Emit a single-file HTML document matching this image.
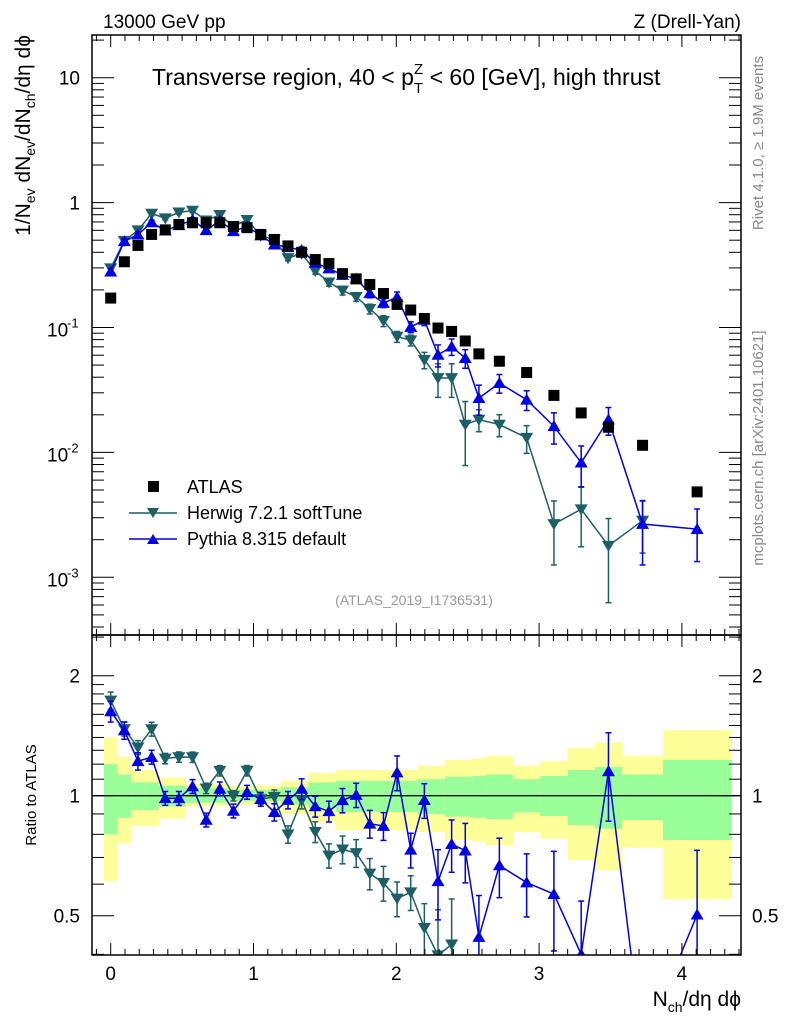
<!DOCTYPE html>
<html><head><meta charset="utf-8"><style>
html,body{margin:0;background:#fff;width:786px;height:1024px;overflow:hidden}
svg{display:block;font-family:"Liberation Sans",sans-serif}
</style></head><body>
<div style="position:relative;width:786px;height:1024px;overflow:hidden">
<svg id="c" width="786" height="1024" viewBox="0 0 786 1024" style="position:absolute;left:0;top:0"></svg>
<svg width="786" height="1024" style="position:absolute;left:0;top:0;font-family:'Liberation Sans',sans-serif">
<text x="103" y="28" font-size="19">13000 GeV pp</text>
<text x="741" y="28" font-size="19" text-anchor="end">Z (Drell-Yan)</text>
<text x="152" y="85" font-size="23">Transverse region, 40 &lt; p<tspan dy="8" font-size="15">T</tspan><tspan dy="-19" dx="-9" font-size="15">Z</tspan><tspan dy="11"> &lt; 60 [GeV], high thrust</tspan></text>
<text x="414" y="605" font-size="14" fill="#999" text-anchor="middle">(ATLAS_2019_I1736531)</text>
<g font-size="18">
<rect x="148" y="481" width="11" height="11" fill="#000"/>
<text x="187" y="493">ATLAS</text>
<line x1="129" x2="177" y1="513" y2="513" stroke="#1d5f66" stroke-width="1.5"/>
<polygon points="147,508 159,508 153,518" fill="#1d5f66"/>
<text x="187" y="519">Herwig 7.2.1 softTune</text>
<line x1="129" x2="177" y1="539" y2="539" stroke="#0000e6" stroke-width="1.5"/>
<polygon points="147,544 159,544 153,534" fill="#0000e6"/>
<text x="187" y="545">Pythia 8.315 default</text>
</g>
<text transform="translate(30,35) rotate(-90)" font-size="21" text-anchor="end">1/N<tspan dy="5" font-size="14">ev</tspan><tspan dy="-5"> dN</tspan><tspan dy="5" font-size="14">ev</tspan><tspan dy="-5">/dN</tspan><tspan dy="5" font-size="14">ch</tspan><tspan dy="-5">/dη dϕ</tspan></text>
<text transform="translate(36,795) rotate(-90)" font-size="15" text-anchor="middle">Ratio to ATLAS</text>
<text x="741" y="1006" font-size="21" text-anchor="end">N<tspan dy="6" font-size="14">ch</tspan><tspan dy="-6">/dη dϕ</tspan></text>
<text transform="translate(763,143) rotate(-90)" font-size="15" fill="#888" text-anchor="middle">Rivet 4.1.0, ≥ 1.9M events</text>
<text transform="translate(763,448) rotate(-90)" font-size="15" fill="#888" text-anchor="middle">mcplots.cern.ch [arXiv:2401.10621]</text>
</svg>
</div>
<script>
const nBins=[0,1,2,3,4,5,6,7,8,9,10,11,12,13,14,15,16,17,18,19,20,21,22,23,24,25,26,27,28.5,30.5,32.5,34.5,36.5,39,43];
const binLo=[-0.5,0.5,1.5,2.5,3.5,4.5,5.5,6.5,7.5,8.5,9.5,10.5,11.5,12.5,13.5,14.5,15.5,16.5,17.5,18.5,19.5,20.5,21.5,22.5,23.5,24.5,25.5,26.5,27.5,29.5,31.5,33.5,35.5,37.5,40.5];
const binHi=[0.5,1.5,2.5,3.5,4.5,5.5,6.5,7.5,8.5,9.5,10.5,11.5,12.5,13.5,14.5,15.5,16.5,17.5,18.5,19.5,20.5,21.5,22.5,23.5,24.5,25.5,26.5,27.5,29.5,31.5,33.5,35.5,37.5,40.5,45.5];
const atlas=[0.172,0.336,0.454,0.556,0.605,0.668,0.69,0.69,0.69,0.644,0.63,0.556,0.507,0.45,0.40,0.35,0.325,0.27,0.245,0.221,0.187,0.153,0.138,0.118,0.099,0.093,0.078,0.0615,0.0537,0.0436,0.0286,0.0207,0.0159,0.0114,0.00483];
const herwig=[0.298,0.494,0.60,0.817,0.75,0.835,0.862,0.72,0.797,0.644,0.728,0.545,0.504,0.36,0.39,0.284,0.23,0.198,0.176,0.141,0.113,0.0845,0.079,0.055,0.0394,0.0394,0.0167,0.0183,0.0167,0.0131,0.00267,0.00351,0.00179,0.00284];
const herwigErr=[0.05,0.04,0.04,0.04,0.03,0.03,0.03,0.03,0.03,0.03,0.03,0.03,0.04,0.05,0.05,0.06,0.07,0.08,0.08,0.09,0.1,0.1,0.1,0.15,0.3,0.3,0.53,0.2,0.2,0.25,0.53,0.5,0.65,0.45];
const pythia=[0.28,0.49,0.554,0.695,0.596,0.658,0.728,0.60,0.718,0.59,0.643,0.545,0.461,0.439,0.416,0.329,0.297,0.263,0.246,0.188,0.157,0.175,0.101,0.115,0.0604,0.0703,0.0568,0.0272,0.0359,0.0264,0.0162,0.00828,0.0183,0.00267,0.00243];
const pythiaErr=[0.06,0.05,0.05,0.04,0.04,0.04,0.04,0.04,0.04,0.04,0.04,0.04,0.05,0.05,0.06,0.06,0.06,0.07,0.07,0.08,0.08,0.1,0.1,0.1,0.2,0.15,0.17,0.27,0.17,0.18,0.28,0.36,0.25,0.53,0.45];
const yelUp=[1.40,1.25,1.16,1.16,1.11,1.11,1.07,1.07,1.07,1.06,1.06,1.06,1.06,1.09,1.09,1.14,1.14,1.16,1.16,1.16,1.16,1.16,1.16,1.19,1.19,1.23,1.23,1.24,1.26,1.19,1.22,1.32,1.36,1.26,1.46];
const yelDn=[0.61,0.76,0.84,0.84,0.877,0.877,0.94,0.94,0.94,0.95,0.95,0.95,0.95,0.90,0.90,0.857,0.857,0.82,0.82,0.82,0.82,0.82,0.82,0.81,0.81,0.774,0.774,0.767,0.75,0.81,0.779,0.69,0.651,0.741,0.55];
const grnUp=[1.20,1.13,1.08,1.08,1.06,1.06,1.045,1.045,1.045,1.035,1.035,1.035,1.035,1.05,1.05,1.08,1.08,1.09,1.09,1.09,1.09,1.09,1.09,1.10,1.10,1.116,1.116,1.12,1.13,1.10,1.12,1.16,1.18,1.13,1.23];
const grnDn=[0.80,0.88,0.92,0.92,0.94,0.94,0.96,0.96,0.96,0.97,0.97,0.97,0.97,0.95,0.95,0.93,0.93,0.91,0.91,0.91,0.91,0.91,0.91,0.90,0.90,0.886,0.886,0.88,0.874,0.908,0.889,0.844,0.826,0.869,0.774];
const xTicks=["0","1","2","3","4"];
const yTicks=["10","1","10^-1","10^-2","10^-3"];

const NS="http://www.w3.org/2000/svg";
const svg=document.getElementById('c');
const L=92,R=741,T=35,MB=635,RB=955;
const BW=0.0955;
function X(v){return 110.7+v*142.8;}
function Y(v){return 77.7+(1-Math.log10(v))*124.9;}
function RY(r){return 795.7-Math.log2(r)*120;}
function el(tag,at,parent){const e=document.createElementNS(NS,tag);for(const k in at)e.setAttribute(k,at[k]);(parent||svg).appendChild(e);return e;}
function txt(s,at,parent){const e=el('text',at,parent);e.textContent=s;return e;}

const defs=el('defs',{});
const cp1=el('clipPath',{id:'cm'},defs);el('rect',{x:L,y:T,width:R-L,height:MB-T},cp1);
const cp2=el('clipPath',{id:'cr'},defs);el('rect',{x:L,y:MB,width:R-L,height:RB-MB},cp2);

const gB=el('g',{'clip-path':'url(#cr)'});


for(let i=0;i<nBins.length;i++){
  const x0=X(binLo[i]*BW),x1=X(binHi[i]*BW);
  const ry=el('rect',{x:x0,y:RY(yelUp[i]),width:x1-x0+0.5,height:RY(yelDn[i])-RY(yelUp[i]),fill:'#ffff99'},gB);
  
  
  const rg=el('rect',{x:x0,y:RY(grnUp[i]),width:x1-x0+0.5,height:RY(grnDn[i])-RY(grnUp[i]),fill:'#99ff99'},gB);
  
  
}
const ref=el('line',{x1:L,x2:R,y1:RY(1),y2:RY(1),stroke:'#000','stroke-width':1.3});



function tri(g,x,y,down,col,name){
  const s=6.5;
  const pts=down?`${x-s},${y-s*0.75} ${x+s},${y-s*0.75} ${x},${y+s*0.95}`:`${x-s},${y+s*0.75} ${x+s},${y+s*0.75} ${x},${y-s*0.95}`;
  const p=el('polygon',{points:pts,fill:col},g);
  
  
}
function series(vals,errs,col,down,name,ratio){
  const g=el('g',{'clip-path':ratio?'url(#cr)':'url(#cm)'});
  
  
  const fy=ratio?(i=>RY(vals[i]/atlas[i])):(i=>Y(vals[i]));
  const fv=ratio?(i=>vals[i]/atlas[i]):(i=>vals[i]);
  let d='';
  for(let i=0;i<vals.length;i++)d+=(i?'L':'M')+X(nBins[i]*BW)+','+fy(i);
  el('path',{d:d,fill:'none',stroke:col,'stroke-width':1.5},g);
  const T2=ratio?RY:Y;
  for(let i=0;i<vals.length;i++){
    const x=X(nBins[i]*BW),v=fv(i),e=errs[i];
    const lo=Math.max(v*(1-e),1e-6),hi=v*(1+e);
    el('line',{x1:x,x2:x,y1:T2(lo),y2:T2(hi),stroke:col,'stroke-width':1.5},g);
    el('line',{x1:x-3,x2:x+3,y1:T2(lo),y2:T2(lo),stroke:col,'stroke-width':1.5},g);
    el('line',{x1:x-3,x2:x+3,y1:T2(hi),y2:T2(hi),stroke:col,'stroke-width':1.5},g);
    tri(g,x,fy(i),down,col,name+'-marker');
  }
}
const HC='#1d5f66',PC='#0000e6';
series(herwig,herwigErr,HC,true,'herwig',false);
series(pythia,pythiaErr,PC,false,'pythia',false);
series(herwig,herwigErr,HC,true,'herwig',true);
series(pythia,pythiaErr,PC,false,'pythia',true);
const gA=el('g',{'clip-path':'url(#cm)'});


for(let i=0;i<atlas.length;i++){
  const r=el('rect',{x:X(nBins[i]*BW)-5.5,y:Y(atlas[i])-5.5,width:11,height:11,fill:'#000'},gA);
  
  
}

const f1=el('rect',{x:L,y:T,width:R-L,height:MB-T,fill:'none',stroke:'#000','stroke-width':1.5});


const f2=el('rect',{x:L,y:MB,width:R-L,height:RB-MB,fill:'none',stroke:'#000','stroke-width':1.5});



const gx=el('g',{stroke:'#000','stroke-width':1});


for(let k=-1;k<=44;k++){
  const v=k/10,x=X(v);if(x<L||x>R)continue;
  const len=k%10===0?12:6;
  el('line',{x1:x,x2:x,y1:MB,y2:MB-len},gx);el('line',{x1:x,x2:x,y1:T,y2:T+len},gx);
  el('line',{x1:x,x2:x,y1:RB,y2:RB-len},gx);el('line',{x1:x,x2:x,y1:MB,y2:MB+len},gx);
}
xTicks.forEach((s,i)=>{
  const t=txt(s,{x:X(+s),y:980,'font-size':19,'text-anchor':'middle'});
  
  
});
const gy=el('g',{stroke:'#000','stroke-width':1});


for(let e=-4;e<=1;e++)for(let m=1;m<=9;m++){
  const y=Y(m*Math.pow(10,e));if(y<T||y>MB)continue;
  const len=m===1?22:12;
  el('line',{x1:L,x2:L+len,y1:y,y2:y},gy);el('line',{x1:R,x2:R-len,y1:y,y2:y},gy);
}
yTicks.forEach((s,i)=>{
  const y=Y(Math.pow(10,1-i));
  let t;
  if(s.indexOf('^')<0){t=txt(s,{x:80,y:y+7,'font-size':19,'text-anchor':'end'});}
  else{const p=s.split('^');t=txt(p[0],{x:47,y:y+9,'font-size':19});
    const sp=el('tspan',{dy:-9,'font-size':13,x:67},t);sp.textContent=p[1];}
  
  
});
const gr=el('g',{stroke:'#000','stroke-width':1});


[0.4,0.5,0.6,0.7,0.8,0.9,1,1.1,1.2,1.3,1.4,1.5,1.6,1.7,1.8,1.9,2,2.5].forEach(v=>{
  const y=RY(v);if(y<MB||y>RB)return;
  const len=(v===0.5||v===1||v===2)?22:12;
  el('line',{x1:L,x2:L+len,y1:y,y2:y},gr);el('line',{x1:R,x2:R-len,y1:y,y2:y},gr);
});
[['2',2],['1',1],['0.5',0.5]].forEach(a=>{
  const t1=txt(a[0],{x:80,y:RY(a[1])+7,'font-size':19,'text-anchor':'end'});
  
  
  const t2=txt(a[0],{x:752,y:RY(a[1])+7,'font-size':19});
  
  
});
</script>
</body></html>
